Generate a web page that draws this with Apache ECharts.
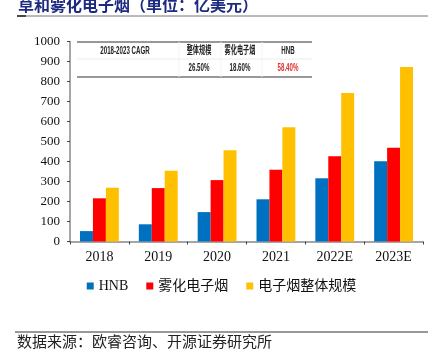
<!DOCTYPE html>
<html>
<head>
<meta charset="utf-8">
<script src="https://cdn.jsdelivr.net/npm/echarts@6/dist/echarts.min.js"></script>
<style>
html,body{margin:0;padding:0;background:#fff;}
#chart{width:443px;height:354px;}
</style>
</head>
<body>
<div id="chart"></div>
<script>
var years = ['2018', '2019', '2020', '2021', '2022E', '2023E']
var hnb = [52, 86, 147, 211, 316, 401]
var vapor = [216, 267, 307, 359, 426, 469]
var total = [269, 354, 456, 571, 742, 872]
var yTicks = [0, 1000, 100]
var tableHead = ['2018-2023 CAGR', '整体规模', '雾化电子烟', 'HNB']
var tableVals = ['', '26.50%', '18.60%', '58.40%']

var chart = echarts.init(document.getElementById('chart'))

var colX = [125, 199, 240, 288]
var tableGraphic = []
// 表格线
tableGraphic.push({type:'line', shape:{x1:77, y1:42, x2:312, y2:42}, style:{stroke:'#333', lineWidth:1.2}})
tableGraphic.push({type:'line', shape:{x1:77, y1:59, x2:312, y2:59}, style:{stroke:'#ececec', lineWidth:1}})
tableGraphic.push({type:'line', shape:{x1:77, y1:77, x2:312, y2:77}, style:{stroke:'#333', lineWidth:1.2}})
tableGraphic.push({type:'line', shape:{x1:179, y1:42, x2:179, y2:77}, style:{stroke:'#f3f3f3', lineWidth:1}})
tableGraphic.push({type:'line', shape:{x1:221, y1:42, x2:221, y2:77}, style:{stroke:'#f3f3f3', lineWidth:1}})
tableGraphic.push({type:'line', shape:{x1:262, y1:42, x2:262, y2:77}, style:{stroke:'#f3f3f3', lineWidth:1}})
for (var i = 0; i < tableHead.length; i++) {
    tableGraphic.push({type:'text', x:colX[i], y:51, scaleX:0.56, style:{text:tableHead[i], fill:'#222', font:'bold 11px "Liberation Sans", "Noto Sans CJK SC"', align:'center', verticalAlign:'middle'}})
    tableGraphic.push({type:'text', x:colX[i], y:68, scaleX:0.56, style:{text:tableVals[i], fill:i==3?'#e03030':'#222', font:'bold 11px "Liberation Sans", "Noto Sans CJK SC"', align:'center', verticalAlign:'middle'}})
}

chart.setOption({
    animation:false,
    backgroundColor:'#fff',
    grid:{left:70, right:20, top:41.5, bottom:112.5},
    legend:{
        bottom:56,
        left:'center',
        icon:'rect',
        itemWidth:7,
        itemHeight:7,
        itemGap:18,
        textStyle:{fontSize:14, color:'#111', fontFamily:'"Liberation Serif", "Noto Sans CJK SC"'},
        data:['HNB', '雾化电子烟', '电子烟整体规模']
    },
    xAxis:{
        type:'category',
        data:years,
        axisLine:{lineStyle:{color:'#888', width:1.5}},
        axisTick:{show:true, length:3, lineStyle:{color:'#444'}},
        axisLabel:{color:'#111', fontSize:14, fontFamily:'"Liberation Serif"', margin:9}
    },
    yAxis:{
        type:'value',
        min:yTicks[0],
        max:yTicks[1],
        interval:yTicks[2],
        splitLine:{show:false},
        axisLine:{show:true, lineStyle:{color:'#888', width:1.5}},
        axisTick:{show:true, length:3, lineStyle:{color:'#444'}},
        axisLabel:{color:'#111', fontSize:13, fontFamily:'"Liberation Serif"', margin:10, formatter:function(v){return String(v)}}
    },
    series:[
        {name:'HNB', type:'bar', data:hnb, barGap:'0%', barCategoryGap:'34%', itemStyle:{color:'#0070C0'}},
        {name:'雾化电子烟', type:'bar', data:vapor, itemStyle:{color:'#FF0000'}},
        {name:'电子烟整体规模', type:'bar', data:total, itemStyle:{color:'#FFC000'}}
    ],
    graphic:[
        {type:'text', x:18, y:5, style:{text:'草和雾化电子烟（单位：亿美元）', fill:'#1c2a80', font:'bold 16px "Noto Sans CJK SC"', verticalAlign:'middle'}},
        {type:'line', shape:{x1:17, y1:16, x2:428, y2:16}, style:{stroke:'#777', lineWidth:1}},
        {type:'line', shape:{x1:17, y1:16, x2:26, y2:16}, style:{stroke:'#222', lineWidth:1.5}},
        {type:'line', shape:{x1:15, y1:332, x2:428, y2:332}, style:{stroke:'#333', lineWidth:1}},
        {type:'text', x:17, y:341, style:{text:'数据来源：欧睿咨询、开源证券研究所', fill:'#222', font:'15px "Noto Sans CJK SC"', verticalAlign:'middle'}}
    ].concat(tableGraphic)
})
</script>
</body>
</html>
